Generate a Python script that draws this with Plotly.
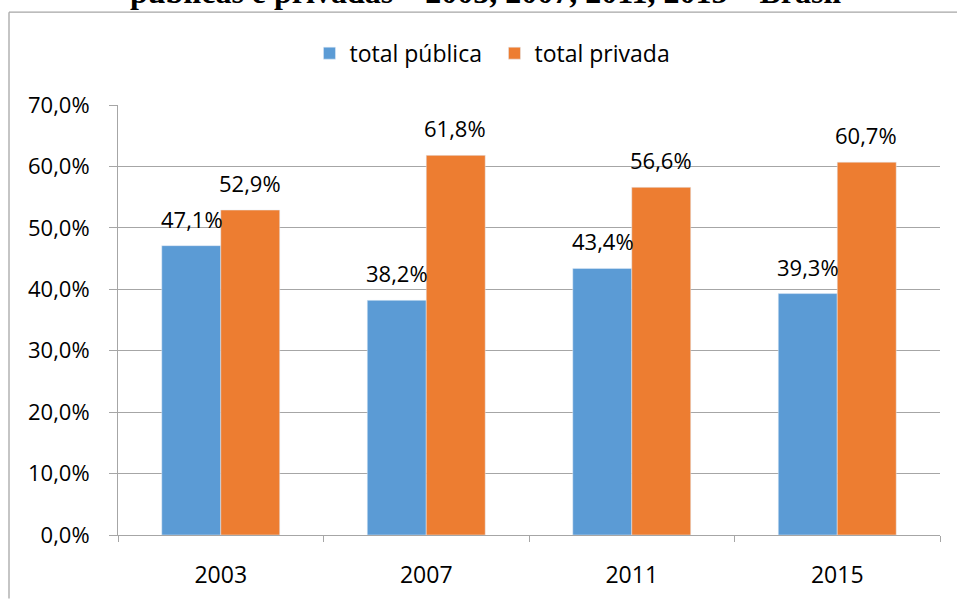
import plotly.graph_objects as go

categories = ["2003", "2007", "2011", "2015"]
publica = [47.1, 38.2, 43.4, 39.3]
privada = [52.9, 61.8, 56.6, 60.7]
series_names = ["total pública", "total privada"]
title_text = "públicas e privadas – 2003, 2007, 2011, 2015 – Brasil"

BLUE = "#5B9BD5"
ORANGE = "#ED7D31"
GRID = "#a6a6a6"
FONT = "Open Sans"

fig = go.Figure()
fig.add_trace(go.Bar(x=categories, y=publica, name=series_names[0], marker_color=BLUE))
fig.add_trace(go.Bar(x=categories, y=privada, name=series_names[1], marker_color=ORANGE))

def fmt(v):
    return f"{v:.1f}".replace(".", ",") + "%"

annotations = []
for series, shift in ((publica, -29), (privada, 29)):
    for idx, v in enumerate(series):
        annotations.append(dict(
            x=idx, y=v, xref="x", yref="y", text=fmt(v), showarrow=False,
            xshift=shift, yshift=27, yanchor="middle", xanchor="center",
            font=dict(family=FONT, size=22, color="#000000"),
        ))

annotations.append(dict(
    x=0.4465, y=1.217, xref="paper", yref="paper", text="<b>" + title_text + "</b>",
    showarrow=False, xanchor="center", yanchor="bottom",
    font=dict(family="Liberation Serif", size=32, color="#000000"),
))

fig.update_layout(
    width=957, height=602,
    margin=dict(l=118, r=17, t=105, b=57),
    paper_bgcolor="white", plot_bgcolor="white",
    barmode="group", bargap=0.426, bargroupgap=0,
    separators=",.",
    showlegend=True,
    hovermode=False,
    legend=dict(orientation="h", x=0.458, xanchor="center", y=1.1205, yanchor="middle",
                font=dict(family=FONT, size=23, color="#000000"), itemwidth=30,
                entrywidth=140, entrywidthmode="pixels",
                bgcolor="rgba(0,0,0,0)"),
    annotations=annotations,
    shapes=[
        dict(type="line", xref="paper", yref="paper", x0=(9 - 118) / 822, x1=(960 - 118) / 822,
             y0=(545 - 10) / 440, y1=(545 - 10) / 440, line=dict(color=GRID, width=1.3)),
        dict(type="line", xref="paper", yref="paper", x0=(9 - 118) / 822, x1=(9 - 118) / 822,
             y0=(545 - 10) / 440, y1=(545 - 610) / 440, line=dict(color=GRID, width=1.3)),
    ],
)

fig.update_yaxes(
    range=[0, 70], dtick=10, tickformat=".1f", ticksuffix="%",
    showgrid=True, gridcolor=GRID, gridwidth=1,
    showline=True, linecolor=GRID, linewidth=1,
    ticks="outside", ticklen=8, tickcolor=GRID,
    ticklabelstandoff=15, zeroline=False,
    tickfont=dict(family=FONT, size=22, color="#000000"),
)
fig.update_xaxes(
    type="category", showgrid=False,
    showline=True, linecolor=GRID, linewidth=1,
    ticks="outside", ticklen=6, tickcolor=GRID, tickson="boundaries",
    ticklabelstandoff=19,
    tickfont=dict(family=FONT, size=23, color="#000000"),
)

fig.write_html("out.html", config={"displayModeBar": False},
               post_script="document.body.style.margin='0px';")
